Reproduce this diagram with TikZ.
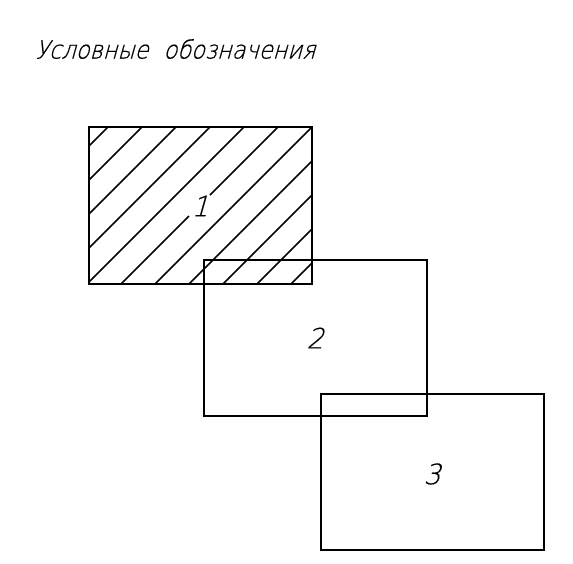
\documentclass[tikz,border=0pt]{standalone}
\usepackage{fontspec}
\newfontfamily\gostfont[FakeSlant=0.28,FakeStretch=0.9,FakeBold=0.5]{DejaVu Sans ExtraLight}
\newfontfamily\gostdigits[FakeSlant=0.28,FakeStretch=0.95,FakeBold=0.5]{DejaVu Sans ExtraLight}
\tikzset{
  outline/.style={draw=black,line width=2pt,line join=miter},
  hatchline/.style={draw=black,line width=1.7pt},
  lbl/.style={inner sep=0pt,font=\gostdigits\fontsize{28}{28}\selectfont},
  titlelbl/.style={inner sep=0pt,anchor=west,font=\gostfont\fontsize{25}{25}\selectfont}
}
\begin{document}
\begin{tikzpicture}[x=1pt,y=-1pt]
\useasboundingbox (0,0) rectangle (573,563);
\fill[white] (0,0) rectangle (573,563);
\begin{scope}
\clip (89,127) rectangle (312,284);
\foreach \k in {-4,-3,-2,-1,0,2,3,4,5,6}{
  \pgfmathsetmacro{\xa}{87+34*\k}
  \draw[hatchline] (\xa,284) -- ++(230,-230);
}
\end{scope}
\coordinate (g1) at (121,284);
\coordinate (g2) at (189,216);
\coordinate (g3) at (210,195);
\coordinate (g4) at (278,127);
\draw[hatchline] (g1) -- (g2);
\draw[hatchline] (g3) -- (g4);
\draw[outline] (89,127) rectangle (312,284);
\draw[outline] (204,260) rectangle (427,416);
\draw[outline] (321,394) rectangle (544,550);
\node[lbl] (n1) at (200,206) {1};
\node[lbl] (n2) at (315,338) {2};
\node[lbl] (n3) at (432,474) {3};
\node[titlelbl] (title) at (35,49) {Условные\hspace{0.6em}обозначения};
\end{tikzpicture}
\end{document}
